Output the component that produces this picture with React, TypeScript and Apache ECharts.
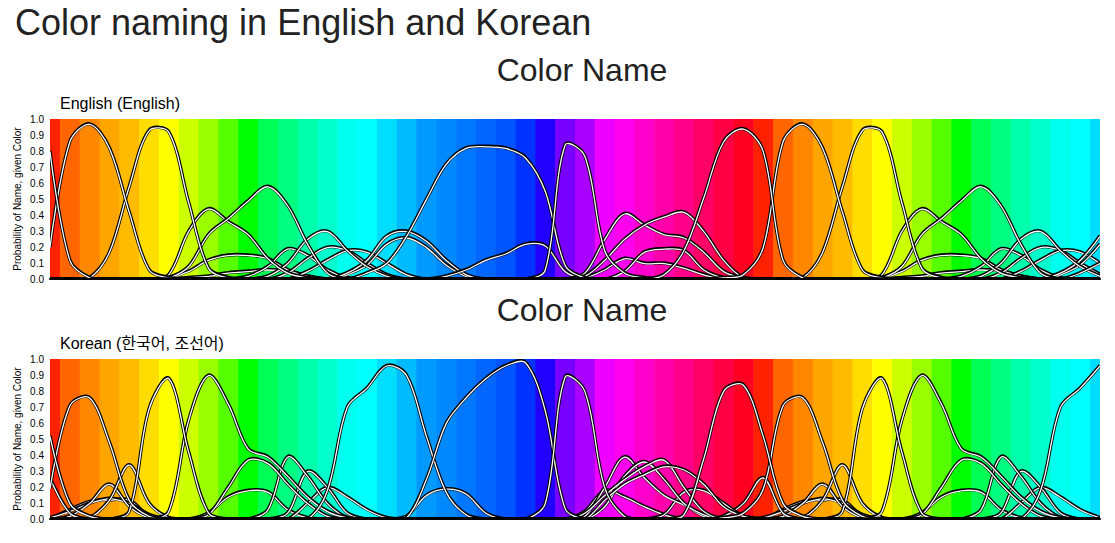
import React, { useEffect, useRef } from "react";
import * as echarts from "echarts";

// Hue sample colours (one band per sample, 54 samples = 1.5 hue cycles)
const bandColors = [
  "#ff2200", "#ff6600", "#ff8800", "#ffa500", "#ffbb00", "#ffdd00",
  "#ffff00", "#ccff00", "#99ff00", "#55ff00", "#00ff00", "#00ff55",
  "#00ff80", "#00ffaa", "#00ffcc", "#00ffee", "#00ffff", "#00ddff",
  "#00bbff", "#0099ff", "#0088ff", "#0077ff", "#0066ff", "#0055ff",
  "#0033ff", "#2200ff", "#7700ff", "#aa00ff", "#ee00ff", "#ff00ee",
  "#ff00cc", "#ff00aa", "#ff0088", "#ff0066", "#ff0044", "#ff0022",
  "#ff2200", "#ff6600", "#ff8800", "#ffa500", "#ffbb00", "#ffdd00",
  "#ffff00", "#ccff00", "#99ff00", "#55ff00", "#00ff00", "#00ff55",
  "#00ff80", "#00ffaa", "#00ffcc", "#00ffee", "#00ffff", "#00ddff",
];

const yTicks = [0, 0.1, 0.2, 0.3, 0.4, 0.5, 0.6, 0.7, 0.8, 0.9, 1.0];

// ---------- English ----------
const enRed = [0.80,0.12,0.01,0,0,0, 0,0,0,0,0,0, 0,0,0,0,0,0, 0,0,0,0,0,0, 0,0,0,0,0,0, 0,0.03,0.18,0.51,0.86,0.94, 0.80,0.12,0.01,0,0,0, 0,0,0,0,0,0, 0,0,0,0,0,0];
const enOrange = [0.20,0.86,0.97,0.82,0.42,0.06, 0.01,0,0,0,0,0, 0,0,0,0,0,0, 0,0,0,0,0,0, 0,0,0,0,0,0, 0,0,0,0,0.01,0.03, 0.20,0.86,0.97,0.82,0.42,0.06, 0.01,0,0,0,0,0, 0,0,0,0,0,0];
const enYellow = [0,0,0.01,0.17,0.58,0.93, 0.92,0.48,0.07,0.01,0,0, 0,0,0,0,0,0, 0,0,0,0,0,0, 0,0,0,0,0,0, 0,0,0,0,0,0, 0,0,0.01,0.17,0.58,0.93, 0.92,0.48,0.07,0.01,0,0, 0,0,0,0,0,0];
const enLime = [0,0,0,0,0,0, 0.03,0.30,0.44,0.36,0.28,0.13, 0.04,0.01,0,0,0,0, 0,0,0,0,0,0, 0,0,0,0,0,0, 0,0,0,0,0,0, 0,0,0,0,0,0, 0.03,0.30,0.44,0.36,0.28,0.13, 0.04,0.01,0,0,0,0];
const enGreen = [0,0,0,0,0,0, 0.01,0.08,0.28,0.38,0.49,0.58, 0.46,0.22,0.04,0,0,0, 0,0,0,0,0,0, 0,0,0,0,0,0, 0,0,0,0,0,0, 0,0,0,0,0,0, 0.01,0.08,0.28,0.38,0.49,0.58, 0.46,0.22,0.04,0,0,0];
const enLimeGreen = [0,0,0,0,0,0, 0.01,0.05,0.12,0.15,0.15,0.13, 0.06,0.02,0,0,0,0, 0,0,0,0,0,0, 0,0,0,0,0,0, 0,0,0,0,0,0, 0,0,0,0,0,0, 0.01,0.05,0.12,0.15,0.15,0.13, 0.06,0.02,0,0,0,0];
const enOlive = [0,0,0,0,0,0, 0,0.01,0.02,0.04,0.05,0.06, 0.05,0.02,0,0,0,0, 0,0,0,0,0,0, 0,0,0,0,0,0, 0,0,0,0,0,0, 0,0,0,0,0,0, 0,0.01,0.02,0.04,0.05,0.06, 0.05,0.02,0,0,0,0];
const enTurquoise = [0,0,0,0,0,0, 0,0,0,0,0.02,0.08, 0.19,0.15,0.06,0.01,0,0, 0,0,0,0,0,0, 0,0,0,0,0,0, 0,0,0,0,0,0, 0,0,0,0,0,0, 0,0,0,0,0.02,0.08, 0.19,0.15,0.06,0.01,0,0];
const enTeal = [0,0,0,0,0,0, 0,0,0,0,0,0.02, 0.10,0.25,0.30,0.18,0.08,0.02, 0,0,0,0,0,0, 0,0,0,0,0,0, 0,0,0,0,0,0, 0,0,0,0,0,0, 0,0,0,0,0,0.02, 0.10,0.25,0.30,0.18,0.08,0.02];
const enAqua = [0,0,0,0,0,0, 0,0,0,0,0,0, 0.04,0.13,0.20,0.18,0.10,0.03, 0,0,0,0,0,0, 0,0,0,0,0,0, 0,0,0,0,0,0, 0,0,0,0,0,0, 0,0,0,0,0,0, 0.04,0.13,0.20,0.18,0.10,0.03];
const enSeafoam = [0,0,0,0,0,0, 0,0,0,0,0,0, 0,0.05,0.12,0.18,0.17,0.10, 0.03,0,0,0,0,0, 0,0,0,0,0,0, 0,0,0,0,0,0, 0,0,0,0,0,0, 0,0,0,0,0,0, 0,0.05,0.12,0.18,0.17,0.10];
const enCyan = [0,0,0,0,0,0, 0,0,0,0,0,0, 0,0,0,0.04,0.12,0.27, 0.30,0.24,0.12,0.03,0,0, 0,0,0,0,0,0, 0,0,0,0,0,0, 0,0,0,0,0,0, 0,0,0,0,0,0, 0,0,0,0.04,0.12,0.27];
const enLightBlue = [0,0,0,0,0,0, 0,0,0,0,0,0, 0,0,0,0.03,0.09,0.22, 0.26,0.20,0.09,0.02,0,0, 0,0,0,0,0,0, 0,0,0,0,0,0, 0,0,0,0,0,0, 0,0,0,0,0,0, 0,0,0,0.03,0.09,0.22];
const enBlue = [0,0,0,0,0,0, 0,0,0,0,0,0, 0,0,0,0,0.04,0.10, 0.27,0.50,0.72,0.82,0.83,0.82, 0.76,0.55,0.09,0.01,0,0, 0,0,0,0,0,0, 0,0,0,0,0,0, 0,0,0,0,0,0, 0,0,0,0,0.04,0.10];
const enNavy = [0,0,0,0,0,0, 0,0,0,0,0,0, 0,0,0,0,0,0, 0,0,0.02,0.06,0.12,0.16, 0.22,0.21,0.05,0,0,0, 0,0,0,0,0,0, 0,0,0,0,0,0, 0,0,0,0,0,0, 0,0,0,0,0,0];
const enPurple = [0,0,0,0,0,0, 0,0,0,0,0,0, 0,0,0,0,0,0, 0,0,0,0,0,0, 0,0.06,0.84,0.77,0.18,0.04, 0.01,0,0,0,0,0, 0,0,0,0,0,0, 0,0,0,0,0,0, 0,0,0,0,0,0];
const enMagenta = [0,0,0,0,0,0, 0,0,0,0,0,0, 0,0,0,0,0,0, 0,0,0,0,0,0, 0,0,0,0.04,0.25,0.41, 0.34,0.28,0.26,0.17,0.05,0.01, 0,0,0,0,0,0, 0,0,0,0,0,0, 0,0,0,0,0,0];
const enPink = [0,0,0,0,0,0, 0,0,0,0,0,0, 0,0,0,0,0,0, 0,0,0,0,0,0, 0,0,0,0.02,0.12,0.25, 0.34,0.39,0.42,0.30,0.12,0.01, 0,0,0,0,0,0, 0,0,0,0,0,0, 0,0,0,0,0,0];
const enViolet = [0,0,0,0,0,0, 0,0,0,0,0,0, 0,0,0,0,0,0, 0,0,0,0,0,0, 0,0,0,0.01,0.06,0.13, 0.10,0.10,0.07,0.03,0,0, 0,0,0,0,0,0, 0,0,0,0,0,0, 0,0,0,0,0,0];
const enRose = [0,0,0,0,0,0, 0,0,0,0,0,0, 0,0,0,0,0,0, 0,0,0,0,0,0, 0,0,0,0,0,0.05, 0.17,0.19,0.18,0.06,0.01,0, 0,0,0,0,0,0, 0,0,0,0,0,0, 0,0,0,0,0,0];

const englishCurves = [
  enOlive, enLimeGreen, enTurquoise, enAqua, enSeafoam, enLightBlue, enCyan,
  enTeal, enNavy, enViolet, enRose, enLime, enGreen, enMagenta, enPink,
  enBlue, enPurple, enYellow, enOrange, enRed,
];

// ---------- Korean ----------
const koRed = [0.52,0.10,0.02,0,0,0, 0,0,0,0,0,0, 0,0,0,0,0,0, 0,0,0,0,0,0, 0,0,0,0,0,0, 0,0,0.03,0.38,0.80,0.84, 0.52,0.10,0.02,0,0,0, 0,0,0,0,0,0, 0,0,0,0,0,0];
const koOrange = [0.19,0.71,0.76,0.48,0.12,0.02, 0,0,0,0,0,0, 0,0,0,0,0,0, 0,0,0,0,0,0, 0,0,0,0,0,0, 0,0,0,0,0.01,0.04, 0.19,0.71,0.76,0.48,0.12,0.02, 0,0,0,0,0,0, 0,0,0,0,0,0];
const koScarlet = [0.26,0.04,0,0,0,0, 0,0,0,0,0,0, 0,0,0,0,0,0, 0,0,0,0,0,0, 0,0,0,0,0,0, 0,0,0,0,0.02,0.10, 0.26,0.04,0,0,0,0, 0,0,0,0,0,0, 0,0,0,0,0,0];
const koTangerine = [0,0.02,0.10,0.22,0.08,0.01, 0,0,0,0,0,0, 0,0,0,0,0,0, 0,0,0,0,0,0, 0,0,0,0,0,0, 0,0,0,0,0,0, 0,0.02,0.10,0.22,0.08,0.01, 0,0,0,0,0,0, 0,0,0,0,0,0];
const koOchre = [0,0,0.01,0.12,0.34,0.10, 0.01,0,0,0,0,0, 0,0,0,0,0,0, 0,0,0,0,0,0, 0,0,0,0,0,0, 0,0,0,0,0,0, 0,0,0.01,0.12,0.34,0.10, 0.01,0,0,0,0,0, 0,0,0,0,0,0];
const koBrownA = [0,0.06,0.11,0.12,0.12,0.02, 0,0,0,0,0,0, 0,0,0,0,0,0, 0,0,0,0,0,0, 0,0,0,0,0,0, 0,0,0,0,0,0, 0,0.06,0.11,0.12,0.12,0.02, 0,0,0,0,0,0, 0,0,0,0,0,0];
const koBrownB = [0.01,0.05,0.10,0.13,0.10,0.03, 0,0,0,0,0,0, 0,0,0,0,0,0, 0,0,0,0,0,0, 0,0,0,0,0,0, 0,0,0,0,0,0, 0.01,0.05,0.10,0.13,0.10,0.03, 0,0,0,0,0,0, 0,0,0,0,0,0];
const koYellow = [0,0,0,0,0.05,0.69, 0.88,0.42,0.04,0,0,0, 0,0,0,0,0,0, 0,0,0,0,0,0, 0,0,0,0,0,0, 0,0,0,0,0,0, 0,0,0,0,0.05,0.69, 0.88,0.42,0.04,0,0,0, 0,0,0,0,0,0];
const koYellowGreen = [0,0,0,0,0,0, 0.05,0.62,0.90,0.72,0.44,0.39, 0.27,0.14,0.05,0.01,0,0, 0,0,0,0,0,0, 0,0,0,0,0,0, 0,0,0,0,0,0, 0,0,0,0,0,0, 0.05,0.62,0.90,0.72,0.44,0.39, 0.27,0.14,0.05,0.01,0,0];
const koGreen = [0,0,0,0,0,0, 0,0,0.03,0.20,0.37,0.35, 0.22,0.10,0.02,0,0,0, 0,0,0,0,0,0, 0,0,0,0,0,0, 0,0,0,0,0,0, 0,0,0,0,0,0, 0,0,0.03,0.20,0.37,0.35, 0.22,0.10,0.02,0,0,0];
const koGrass = [0,0,0,0,0,0, 0,0,0.04,0.14,0.18,0.17, 0.06,0.01,0,0,0,0, 0,0,0,0,0,0, 0,0,0,0,0,0, 0,0,0,0,0,0, 0,0,0,0,0,0, 0,0,0.04,0.14,0.18,0.17, 0.06,0.01,0,0,0,0];
const koTeal = [0,0,0,0,0,0, 0,0,0,0,0,0.06, 0.39,0.27,0.10,0.01,0,0, 0,0,0,0,0,0, 0,0,0,0,0,0, 0,0,0,0,0,0, 0,0,0,0,0,0, 0,0,0,0,0,0.06, 0.39,0.27,0.10,0.01,0,0];
const koJade = [0,0,0,0,0,0, 0,0,0,0,0,0, 0.04,0.30,0.20,0.04,0,0, 0,0,0,0,0,0, 0,0,0,0,0,0, 0,0,0,0,0,0, 0,0,0,0,0,0, 0,0,0,0,0,0, 0.04,0.30,0.20,0.04,0,0];
const koEmerald = [0,0,0,0,0,0, 0,0,0,0,0,0, 0,0.10,0.20,0.14,0.06,0.01, 0,0,0,0,0,0, 0,0,0,0,0,0, 0,0,0,0,0,0, 0,0,0,0,0,0, 0,0,0,0,0,0, 0,0.10,0.20,0.14,0.06,0.01];
const koSky = [0,0,0,0,0,0, 0,0,0,0,0,0, 0,0,0.18,0.70,0.82,0.96, 0.90,0.52,0.17,0.03,0,0, 0,0,0,0,0,0, 0,0,0,0,0,0, 0,0,0,0,0,0, 0,0,0,0,0,0, 0,0,0.18,0.70,0.82,0.96];
const koAzure = [0,0,0,0,0,0, 0,0,0,0,0,0, 0,0,0,0,0,0, 0.02,0.15,0.19,0.16,0.04,0, 0,0,0,0,0,0, 0,0,0,0,0,0, 0,0,0,0,0,0, 0,0,0,0,0,0, 0,0,0,0,0,0];
const koBlue = [0,0,0,0,0,0, 0,0,0,0,0,0, 0,0,0,0,0,0, 0.01,0.25,0.60,0.76,0.88,0.96, 0.98,0.68,0.07,0,0,0, 0,0,0,0,0,0, 0,0,0,0,0,0, 0,0,0,0,0,0, 0,0,0,0,0,0];
const koPurple = [0,0,0,0,0,0, 0,0,0,0,0,0, 0,0,0,0,0,0, 0,0,0,0,0,0, 0,0.10,0.89,0.80,0.20,0.02, 0,0,0,0,0,0, 0,0,0,0,0,0, 0,0,0,0,0,0, 0,0,0,0,0,0];
const koViolet = [0,0,0,0,0,0, 0,0,0,0,0,0, 0,0,0,0,0,0, 0,0,0,0,0,0, 0,0,0,0.05,0.18,0.14, 0.08,0.03,0,0,0,0, 0,0,0,0,0,0, 0,0,0,0,0,0, 0,0,0,0,0,0];
const koMagentaA = [0,0,0,0,0,0, 0,0,0,0,0,0, 0,0,0,0,0,0, 0,0,0,0,0,0, 0,0,0,0.02,0.20,0.39, 0.26,0.15,0.09,0.02,0,0, 0,0,0,0,0,0, 0,0,0,0,0,0, 0,0,0,0,0,0];
const koMagentaB = [0,0,0,0,0,0, 0,0,0,0,0,0, 0,0,0,0,0,0, 0,0,0,0,0,0, 0,0,0,0,0.08,0.27, 0.36,0.25,0.10,0.03,0,0, 0,0,0,0,0,0, 0,0,0,0,0,0, 0,0,0,0,0,0];
const koPinkA = [0,0,0,0,0,0, 0,0,0,0,0,0, 0,0,0,0,0,0, 0,0,0,0,0,0, 0,0,0,0.04,0.15,0.25, 0.33,0.37,0.20,0.05,0,0, 0,0,0,0,0,0, 0,0,0,0,0,0, 0,0,0,0,0,0];
const koPinkB = [0,0,0,0,0,0, 0,0,0,0,0,0, 0,0,0,0,0,0, 0,0,0,0,0,0, 0,0,0,0,0.12,0.22, 0.28,0.33,0.31,0.22,0.08,0.02, 0,0,0,0,0,0, 0,0,0,0,0,0, 0,0,0,0,0,0];
const koRose = [0,0,0,0,0,0, 0,0,0,0,0,0, 0,0,0,0,0,0, 0,0,0,0,0,0, 0,0,0,0,0,0, 0,0.03,0.17,0.18,0.10,0.02, 0,0,0,0,0,0, 0,0,0,0,0,0, 0,0,0,0,0,0];

const koreanCurves = [
  koBrownA, koBrownB, koTangerine, koOchre, koScarlet, koGrass, koEmerald,
  koJade, koTeal, koGreen, koAzure, koViolet, koRose, koMagentaA, koMagentaB,
  koPinkA, koPinkB, koYellowGreen, koYellow, koSky, koBlue, koPurple,
  koOrange, koRed,
];

const FONT = "'Liberation Sans', Arial, Helvetica, 'Noto Sans CJK KR', sans-serif";

const GRID_LEFT = 50;
const GRID_WIDTH = 1050;
const GRID_TOPS = [119, 359];
const GRID_HEIGHT = 160;

function curveSeries(gi: number, vals: number[]) {
  return {
    type: "custom",
    xAxisIndex: gi,
    yAxisIndex: gi,
    silent: true,
    z: 2,
    data: vals.map((v, i) => [i, v]),
    encode: { x: 0, y: 1 },
    renderItem: (params: any, api: any) => {
      if (params.dataIndex !== 0) return { type: "group", children: [] };
      const cs = params.coordSys;
      const pts = vals.map((v, i) => api.coord([i, v]));
      return {
        type: "group",
        children: [
          {
            type: "polyline",
            shape: { points: pts, smooth: 0.34 },
            style: { stroke: "#000", lineWidth: 3.3, fill: null },
            clipPath: {
              type: "rect",
              shape: { x: cs.x, y: cs.y - 3, width: cs.width, height: cs.height + 3 },
            },
          },
          {
            type: "polyline",
            y: 0.6,
            shape: { points: pts, smooth: 0.34 },
            style: { stroke: "#fff", lineWidth: 1.3, fill: null },
            clipPath: {
              type: "rect",
              shape: { x: cs.x, y: cs.y - 3, width: cs.width, height: cs.height + 1.5 },
            },
          },
        ],
      };
    },
  };
}

function buildOption() {
  const lastIndex = bandColors.length - 1;
  const grids = GRID_TOPS.map((top) => ({
    left: GRID_LEFT,
    top,
    width: GRID_WIDTH,
    height: GRID_HEIGHT,
    containLabel: false,
  }));
  const xAxes = GRID_TOPS.map((_, gi) => ({
    type: "value",
    gridIndex: gi,
    min: 0,
    max: lastIndex,
    z: 5,
    axisLine: { show: true, lineStyle: { color: "#000", width: 2 } },
    axisTick: { show: false },
    axisLabel: { show: false },
    splitLine: { show: false },
  }));
  const yAxes = GRID_TOPS.map((_, gi) => ({
    type: "value",
    gridIndex: gi,
    min: yTicks[0],
    max: yTicks[yTicks.length - 1],
    interval: 0.1,
    axisLine: { show: false },
    axisTick: { show: false },
    splitLine: { show: false },
    axisLabel: {
      fontSize: 10,
      color: "#000",
      fontFamily: FONT,
      margin: 6,
      formatter: (v: number) => v.toFixed(1),
    },
  }));

  const series: any[] = [];
  [englishCurves, koreanCurves].forEach((curves, gi) => {
    series.push({
      type: "custom",
      xAxisIndex: gi,
      yAxisIndex: gi,
      silent: true,
      z: 1,
      data: bandColors.map((_, i) => [i, 1]),
      encode: { x: 0, y: 1 },
      renderItem: (params: any, api: any) => {
        const i = api.value(0);
        const cs = params.coordSys;
        const a = api.coord([i - 0.5, 1]);
        const b = api.coord([i + 0.5, 0]);
        const x0 = Math.max(a[0], cs.x);
        const x1 = Math.min(b[0] + 0.6, cs.x + cs.width);
        return {
          type: "rect",
          shape: { x: x0, y: a[1], width: Math.max(0, x1 - x0), height: b[1] - a[1] },
          style: { fill: bandColors[params.dataIndex] },
        };
      },
    });
    curves.forEach((vals) => series.push(curveSeries(gi, vals)));
  });

  const graphic: any[] = [
    {
      type: "text",
      x: 15,
      y: 22,
      style: {
        text: "Color naming in English and Korean",
        font: `36px ${FONT}`,
        fill: "#222",
        textAlign: "left",
        textVerticalAlign: "middle",
      },
    },
  ];
  const subtitles = ["English (English)", "Korean (한국어, 조선어)"];
  GRID_TOPS.forEach((top, gi) => {
    graphic.push({
      type: "text",
      x: 582,
      y: top - 49,
      style: {
        text: "Color Name",
        font: `32px ${FONT}`,
        fill: "#222",
        textAlign: "center",
        textVerticalAlign: "middle",
      },
    });
    graphic.push({
      type: "text",
      x: 60,
      y: top - 16,
      style: {
        text: subtitles[gi],
        font: `16px ${FONT}`,
        fill: "#000",
        textAlign: "left",
        textVerticalAlign: "middle",
      },
    });
    graphic.push({
      type: "text",
      x: 17,
      y: top + GRID_HEIGHT / 2,
      rotation: Math.PI / 2,
      style: {
        text: "Probability of Name, given Color",
        font: `10px ${FONT}`,
        fill: "#000",
        textAlign: "center",
        textVerticalAlign: "middle",
      },
    });
  });

  return {
    animation: false,
    backgroundColor: "#fff",
    grid: grids,
    xAxis: xAxes,
    yAxis: yAxes,
    series,
    graphic,
  };
}

export default function App() {
  const ref = useRef<HTMLDivElement>(null);
  useEffect(() => {
    if (!ref.current) return;
    const chart = echarts.init(ref.current, undefined, { renderer: "svg" });
    chart.setOption(buildOption() as any);
    return () => chart.dispose();
  }, []);
  return (
    <div
      ref={ref}
      style={{ position: "fixed", left: 0, top: 0, width: 1115, height: 543 }}
    />
  );
}
